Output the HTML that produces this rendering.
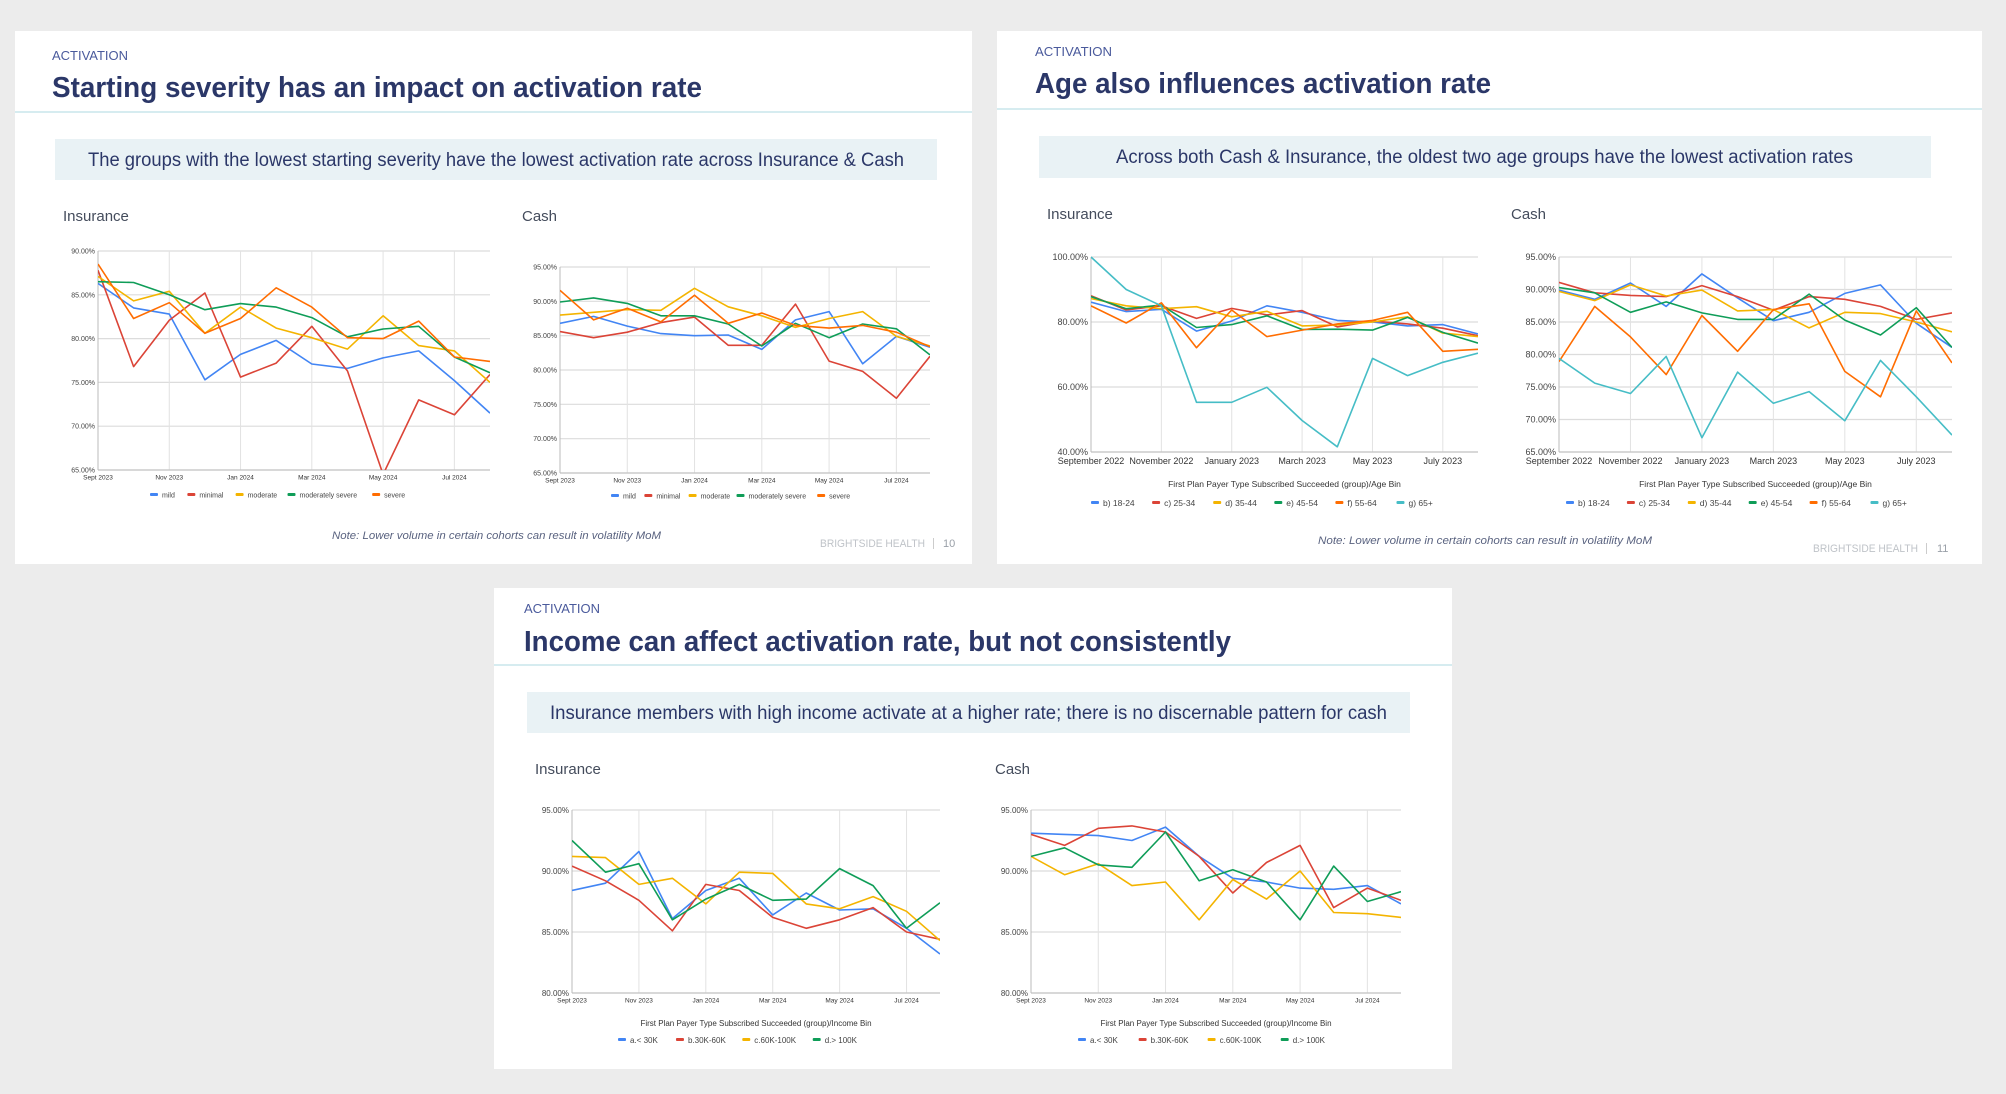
<!DOCTYPE html>
<html><head><meta charset="utf-8">
<style>
html,body{margin:0;padding:0;background:#ececec;}
body{width:2006px;height:1094px;position:relative;overflow:hidden;font-family:"Liberation Sans",sans-serif;}
.card{position:absolute;background:#fff;}
svg{position:absolute;left:0;top:0;}
</style></head>
<body>
<div class="card" style="left:15px;top:31px;width:957px;height:533px"></div>
<div class="card" style="left:997px;top:31px;width:985px;height:533px"></div>
<div class="card" style="left:494px;top:588px;width:958px;height:481px"></div>
<svg id="page" width="2006" height="1094" xmlns="http://www.w3.org/2000/svg">
  <!-- Slide 1 -->
  <text x="52" y="60" font-size="13" fill="#4a5a9c" textLength="76" lengthAdjust="spacingAndGlyphs">ACTIVATION</text>
  <text x="52" y="97" font-size="29" font-weight="bold" fill="#2b3768" textLength="650" lengthAdjust="spacingAndGlyphs">Starting severity has an impact on activation rate</text>
  <rect x="15" y="111" width="957" height="2" fill="#d6ecf0"/>
  <rect x="55" y="139" width="882" height="41" fill="#e9f2f5"/>
  <text x="88" y="166" font-size="19" fill="#2b3768" textLength="816" lengthAdjust="spacingAndGlyphs">The groups with the lowest starting severity have the lowest activation rate across Insurance &amp; Cash</text>
  <text x="63" y="221" font-size="15" fill="#444c5c">Insurance</text>
  <text x="522" y="221" font-size="15" fill="#444c5c">Cash</text>
  <text x="332" y="539" font-size="11" font-style="italic" fill="#5a6380" textLength="329" lengthAdjust="spacingAndGlyphs">Note: Lower volume in certain cohorts can result in volatility MoM</text>
  <text x="820" y="547" font-size="11" fill="#bfc3c8" textLength="105" lengthAdjust="spacingAndGlyphs">BRIGHTSIDE HEALTH</text>
  <rect x="933" y="538" width="1" height="11" fill="#ccc"/>
  <text x="943" y="547" font-size="11" fill="#9aa0a8">10</text>

  <!-- Slide 2 -->
  <text x="1035" y="56" font-size="13" fill="#4a5a9c" textLength="77" lengthAdjust="spacingAndGlyphs">ACTIVATION</text>
  <text x="1035" y="93" font-size="29" font-weight="bold" fill="#2b3768" textLength="456" lengthAdjust="spacingAndGlyphs">Age also influences activation rate</text>
  <rect x="997" y="108" width="985" height="2" fill="#d6ecf0"/>
  <rect x="1039" y="136" width="892" height="42" fill="#e9f2f5"/>
  <text x="1116" y="163" font-size="19" fill="#2b3768" textLength="737" lengthAdjust="spacingAndGlyphs">Across both Cash &amp; Insurance, the oldest two age groups have the lowest activation rates</text>
  <text x="1047" y="219" font-size="15" fill="#444c5c">Insurance</text>
  <text x="1511" y="219" font-size="15" fill="#444c5c">Cash</text>
  <text x="1318" y="544" font-size="11" font-style="italic" fill="#5a6380" textLength="334" lengthAdjust="spacingAndGlyphs">Note: Lower volume in certain cohorts can result in volatility MoM</text>
  <text x="1813" y="552" font-size="11" fill="#bfc3c8" textLength="105" lengthAdjust="spacingAndGlyphs">BRIGHTSIDE HEALTH</text>
  <rect x="1926" y="543" width="1" height="11" fill="#ccc"/>
  <text x="1937" y="552" font-size="11" fill="#9aa0a8">11</text>

  <!-- Slide 3 -->
  <text x="524" y="613" font-size="13" fill="#4a5a9c" textLength="76" lengthAdjust="spacingAndGlyphs">ACTIVATION</text>
  <text x="524" y="651" font-size="29" font-weight="bold" fill="#2b3768" textLength="707" lengthAdjust="spacingAndGlyphs">Income can affect activation rate, but not consistently</text>
  <rect x="494" y="664" width="958" height="2" fill="#d6ecf0"/>
  <rect x="527" y="692" width="883" height="41" fill="#e9f2f5"/>
  <text x="550" y="719" font-size="19" fill="#2b3768" textLength="837" lengthAdjust="spacingAndGlyphs">Insurance members with high income activate at a higher rate; there is no discernable pattern for cash</text>
  <text x="535" y="774" font-size="15" fill="#444c5c">Insurance</text>
  <text x="995" y="774" font-size="15" fill="#444c5c">Cash</text>
</svg>
<script>
// ---------- DATA ----------
const monthsSev = ['Sept 2023','Oct 2023','Nov 2023','Dec 2023','Jan 2024','Feb 2024','Mar 2024','Apr 2024','May 2024','Jun 2024','Jul 2024','Aug 2024'];
const monthsAge = ['September 2022','October 2022','November 2022','December 2022','January 2023','February 2023','March 2023','April 2023','May 2023','June 2023','July 2023','August 2023'];
const monthsInc = monthsSev;

const sevNames = ['mild','minimal','moderate','moderately severe','severe'];
const ageNames = ['b) 18-24','c) 25-34','d) 35-44','e) 45-54','f) 55-64','g) 65+'];
const incNames = ['a.< 30K','b.30K-60K','c.60K-100K','d.> 100K'];

const sevInsTicks = [65,70,75,80,85,90];
const sevCashTicks = [65,70,75,80,85,90,95];
const ageInsTicks = [40,60,80,100];
const ageCashTicks = [65,70,75,80,85,90,95];
const incTicks = [80,85,90,95];

const sevInsMild = [86.3,83.5,82.8,75.3,78.2,79.8,77.1,76.6,77.8,78.6,75.2,71.5];
const sevInsMinimal = [87.8,76.8,82.1,85.2,75.6,77.2,81.4,76.3,64.5,73.0,71.3,75.9];
const sevInsModerate = [87.1,84.3,85.4,80.6,83.6,81.2,80.1,78.8,82.6,79.2,78.6,75.0];
const sevInsModSevere = [86.5,86.4,85.0,83.3,84.0,83.6,82.4,80.2,81.1,81.4,77.9,76.1];
const sevInsSevere = [88.5,82.3,84.1,80.6,82.3,85.8,83.6,80.1,80.0,82.0,77.9,77.4];

const sevCashMild = [86.8,87.8,86.4,85.3,85.0,85.1,83.0,87.3,88.5,80.9,84.9,83.3];
const sevCashMinimal = [85.6,84.7,85.5,86.9,87.7,83.6,83.6,89.6,81.3,79.8,75.9,82.0];
const sevCashModerate = [88.0,88.4,88.8,88.7,91.9,89.2,87.9,86.2,87.5,88.5,84.9,83.5];
const sevCashModSevere = [89.9,90.5,89.7,87.9,87.9,86.7,83.5,86.8,84.7,86.7,86.0,82.2];
const sevCashSevere = [91.6,87.3,89.0,87.0,90.9,86.8,88.3,86.5,86.1,86.5,85.5,83.4];

const ageIns1824 = [86.1,83.2,83.9,77.2,80.3,85.0,83.0,80.5,80.0,78.8,79.2,76.3];
const ageIns2534 = [88.1,83.7,85.0,81.1,84.2,82.2,83.5,78.5,80.3,79.4,78.1,75.8];
const ageIns3544 = [87.2,85.0,84.1,84.7,81.6,83.3,78.8,79.1,80.0,81.6,76.6,75.5];
const ageIns4554 = [87.8,84.1,85.2,78.3,79.2,81.9,77.7,77.8,77.5,81.4,76.8,73.5];
const ageIns5564 = [85.0,79.7,85.9,72.1,83.7,75.5,77.5,79.4,80.5,83.0,71.0,71.6];
const ageIns65 = [100.0,90.0,85.0,55.3,55.3,59.9,49.7,41.6,68.8,63.5,67.6,70.4];

const ageCash1824 = [89.9,88.5,91.0,87.4,92.4,88.7,85.2,86.5,89.4,90.7,84.8,81.1];
const ageCash2534 = [91.1,89.5,89.1,88.9,90.6,88.9,86.8,88.9,88.5,87.4,85.4,86.4];
const ageCash3544 = [89.7,88.3,90.7,89.0,89.9,86.7,86.9,84.1,86.5,86.3,85.0,83.5];
const ageCash4554 = [90.3,89.5,86.5,88.1,86.4,85.4,85.4,89.3,85.3,83.0,87.2,81.1];
const ageCash5564 = [78.9,87.4,82.7,76.9,86.0,80.5,86.9,87.8,77.4,73.5,86.7,78.7];
const ageCash65 = [79.4,75.6,74.0,79.7,67.2,77.3,72.5,74.3,69.8,79.1,73.5,67.6];

const incInsA = [88.4,89.0,91.6,86.1,88.4,89.4,86.4,88.2,86.8,86.9,85.3,83.2];
const incInsB = [90.4,89.2,87.6,85.1,88.9,88.4,86.2,85.3,86.0,87.0,85.0,84.4];
const incInsC = [91.2,91.1,88.9,89.4,87.3,89.9,89.8,87.3,86.9,87.9,86.7,84.3];
const incInsD = [92.5,89.9,90.6,86.0,87.7,88.9,87.6,87.7,90.2,88.8,85.3,87.4];

const incCashA = [93.1,93.0,92.9,92.5,93.6,91.2,89.4,89.1,88.6,88.5,88.8,87.3];
const incCashB = [93.0,92.1,93.5,93.7,93.2,91.2,88.2,90.7,92.1,87.0,88.6,87.6];
const incCashC = [91.2,89.7,90.6,88.8,89.1,86.0,89.3,87.7,90.0,86.6,86.5,86.2];
const incCashD = [91.2,91.9,90.5,90.3,93.2,89.2,90.1,89.1,86.0,90.4,87.5,88.3];

// ---------- DRAW ----------
const NS = 'http://www.w3.org/2000/svg';
const page = document.getElementById('page');
const C5 = ['#4285f4','#db4437','#f4b400','#0f9d58','#ff6d01'];
const C6 = ['#4285f4','#db4437','#f4b400','#0f9d58','#ff6d01','#46bdc6'];
const C4 = ['#4285f4','#db4437','#f4b400','#0f9d58'];
let clipId = 0;
function mk(tag, attrs, parent){
  const e = document.createElementNS(NS, tag);
  for (const k in attrs) e.setAttribute(k, attrs[k]);
  (parent||page).appendChild(e);
  return e;
}
function drawChart(g){
  const grp = mk('g', {});
  
  
  const lo = g.ticks[0], hi = g.ticks[g.ticks.length-1];
  const n = g.cats.length;
  const xs = i => g.x0 + (g.x1 - g.x0) * i / (n - 1);
  const ys = v => g.y1 - (g.y1 - g.y0) * (v - lo) / (hi - lo);
  // horizontal gridlines + tick labels
  g.ticks.forEach(t => {
    const l = mk('line', {x1:g.x0, x2:g.x1, y1:ys(t), y2:ys(t), stroke:'#dcdcdc', 'stroke-width':1.2}, grp);
    
    
    const tx = mk('text', {x:g.x0-3, y:ys(t)+g.tfs*0.35, 'font-size':g.tfs, fill:'#444', 'text-anchor':'end'}, grp);
    tx.textContent = t.toFixed(2) + '%';
    
    
  });
  // vertical gridlines + x labels
  g.cats.forEach((c, i) => {
    if (i % 2) return;
    const l = mk('line', {x1:xs(i), x2:xs(i), y1:g.y0, y2:g.y1, stroke: i===0?'#bbb':'#e2e2e2', 'stroke-width':1}, grp);
    
    
    const tx = mk('text', {x:xs(i), y:g.y1 + g.xfs + 3, 'font-size':g.xfs, fill:'#333', 'text-anchor':'middle'}, grp);
    tx.textContent = c;
    
    
  });
  mk('line', {x1:g.x0, x2:g.x1, y1:g.y1, y2:g.y1, stroke:'#bbb', 'stroke-width':1}, grp);
  // clip
  const id = 'clip' + (clipId++);
  const cp = mk('clipPath', {id:id}, grp);
  mk('rect', {x:g.x0, y:g.y0-2, width:g.x1-g.x0, height:g.y1-g.y0+2}, cp);
  const lines = mk('g', {'clip-path':'url(#'+id+')'}, grp);
  g.series.forEach((s, k) => {
    const p = mk('polyline', {points: s.map((v,i)=>xs(i).toFixed(1)+','+ys(v).toFixed(1)).join(' '), fill:'none', stroke:g.colors[k], 'stroke-width':1.6, 'stroke-linejoin':'round'}, lines);
    
    
  });
  if (g.axisTitle){
    const at = mk('text', {x:(g.x0+g.x1)/2, y:g.axisY, 'font-size':g.lfs, fill:'#333', 'text-anchor':'middle'}, grp);
    at.textContent = g.axisTitle;
    
    
  }
  // legend
  const lens = g.names.map(s => 14 + s.length * g.lfs * 0.52);
  const total = lens.reduce((a,b)=>a+b,0);
  const gap = (g.legX1 - g.legX0 - total) / (g.names.length - 1);
  let x = g.legX0;
  g.names.forEach((nm, k) => {
    const r = mk('rect', {x:x, y:g.legY-2, width:8, height:3, rx:1, fill:g.colors[k]}, grp);
    
    
    const tx = mk('text', {x:x+12, y:g.legY+g.lfs*0.35, 'font-size':g.lfs, fill:'#444'}, grp);
    tx.textContent = nm;
    
    
    x += lens[k] + gap;
  });
}

drawChart({name:'severity-insurance-chart', x0:98, x1:490, y0:251, y1:470, ticks:sevInsTicks, cats:monthsSev,
  series:[sevInsMild,sevInsMinimal,sevInsModerate,sevInsModSevere,sevInsSevere], names:sevNames, colors:C5,
  tfs:7, xfs:6.5, lfs:7, legX0:150, legX1:408, legY:495});
drawChart({name:'severity-cash-chart', x0:560, x1:930, y0:267, y1:473, ticks:sevCashTicks, cats:monthsSev,
  series:[sevCashMild,sevCashMinimal,sevCashModerate,sevCashModSevere,sevCashSevere], names:sevNames, colors:C5,
  tfs:7, xfs:6.5, lfs:7, legX0:611, legX1:853, legY:496});
drawChart({name:'age-insurance-chart', x0:1091, x1:1478, y0:257, y1:452, ticks:ageInsTicks, cats:monthsAge,
  series:[ageIns1824,ageIns2534,ageIns3544,ageIns4554,ageIns5564,ageIns65], names:ageNames, colors:C6,
  tfs:9, xfs:9, lfs:8.5, axisTitle:'First Plan Payer Type Subscribed Succeeded (group)/Age Bin', axisY:487, legX0:1091, legX1:1437, legY:503});
drawChart({name:'age-cash-chart', x0:1559, x1:1952, y0:257, y1:452, ticks:ageCashTicks, cats:monthsAge,
  series:[ageCash1824,ageCash2534,ageCash3544,ageCash4554,ageCash5564,ageCash65], names:ageNames, colors:C6,
  tfs:9, xfs:9, lfs:8.5, axisTitle:'First Plan Payer Type Subscribed Succeeded (group)/Age Bin', axisY:487, legX0:1566, legX1:1911, legY:503});
drawChart({name:'income-insurance-chart', x0:572, x1:940, y0:810, y1:993, ticks:incTicks, cats:monthsInc,
  series:[incInsA,incInsB,incInsC,incInsD], names:incNames, colors:C4,
  tfs:8, xfs:6.5, lfs:8, axisTitle:'First Plan Payer Type Subscribed Succeeded (group)/Income Bin', axisY:1026, legX0:618, legX1:860, legY:1040});
drawChart({name:'income-cash-chart', x0:1031, x1:1401, y0:810, y1:993, ticks:incTicks, cats:monthsInc,
  series:[incCashA,incCashB,incCashC,incCashD], names:incNames, colors:C4,
  tfs:8, xfs:6.5, lfs:8, axisTitle:'First Plan Payer Type Subscribed Succeeded (group)/Income Bin', axisY:1026, legX0:1078, legX1:1328, legY:1040});
</script>
</body></html>
